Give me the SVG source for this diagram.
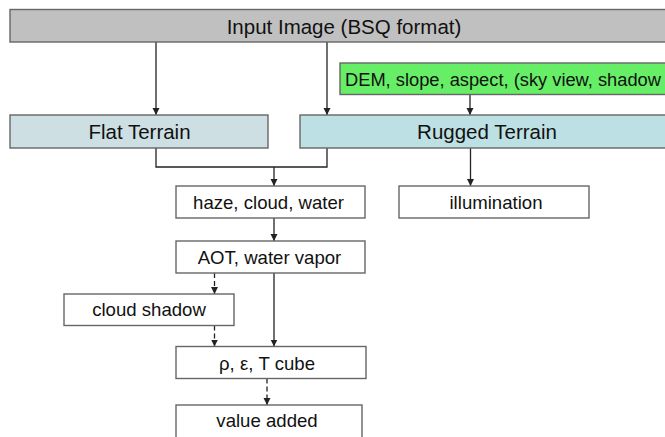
<svg xmlns="http://www.w3.org/2000/svg" width="665" height="437" viewBox="0 0 665 437">
<style>
.box{stroke:#666;stroke-width:1.4}
.w{fill:#fff}
.t{font-family:"Liberation Sans",Arial,sans-serif;fill:#111;text-anchor:middle}
.big{font-size:20.5px}
.sm{font-size:18.6px}
.c{fill:none;stroke:#222;stroke-width:1.3}
.d{stroke-dasharray:5 3}
</style>
<defs>
<marker id="ah" markerUnits="userSpaceOnUse" markerWidth="8" markerHeight="8" refX="7" refY="3.5" orient="auto">
<path d="M0,0 L7,3.5 L0,7 z" fill="#222"/>
</marker>
</defs>
<rect width="665" height="437" fill="#fff"/>
<g id="connectors">
<line class="c" x1="156" y1="42" x2="156" y2="115" marker-end="url(#ah)"/>
<line class="c" x1="327" y1="42" x2="327" y2="115" marker-end="url(#ah)"/>
<line class="c" x1="470" y1="94.5" x2="470" y2="115" marker-end="url(#ah)"/>
<polyline class="c" points="156,148 156,167 327,167 327,148"/>
<line class="c" x1="274" y1="167" x2="274" y2="186" marker-end="url(#ah)"/>
<line class="c" x1="470.5" y1="148" x2="470.5" y2="186" marker-end="url(#ah)"/>
<line class="c" x1="274" y1="218" x2="274" y2="241" marker-end="url(#ah)"/>
<line class="c d" x1="214.5" y1="273" x2="214.5" y2="294" marker-end="url(#ah)"/>
<line class="c" x1="274" y1="273" x2="274" y2="346.5" marker-end="url(#ah)"/>
<line class="c d" x1="214.5" y1="325.5" x2="214.5" y2="346.5" marker-end="url(#ah)"/>
<line class="c d" x1="267" y1="378.5" x2="267" y2="405" marker-end="url(#ah)"/>
</g>
<g id="input">
<rect class="box" x="10" y="9.5" width="670" height="32.5" fill="#c0c0c0"/>
<text class="t big" x="344" y="34">Input Image (BSQ format)</text>
</g>
<g id="dem">
<rect class="box" x="340" y="63" width="340" height="31.5" fill="#66ee66"/>
<text class="t" x="345" y="86" style="text-anchor:start;font-size:18.3px">DEM, slope, aspect, (sky view, shadow</text>
</g>
<g id="flat">
<rect class="box" x="10" y="115" width="258" height="33" fill="#cddfe3"/>
<text class="t big" x="139.5" y="138.5">Flat Terrain</text>
</g>
<g id="rugged">
<rect class="box" x="300" y="115" width="380" height="33" fill="#bde0e4"/>
<text class="t big" x="487" y="138.5">Rugged Terrain</text>
</g>
<g id="haze">
<rect class="box w" x="176" y="186" width="189" height="32"/>
<text class="t sm" x="268.5" y="208.5">haze, cloud, water</text>
</g>
<g id="illumination">
<rect class="box w" x="399" y="186" width="190" height="32"/>
<text class="t sm" x="496" y="208.5">illumination</text>
</g>
<g id="aot">
<rect class="box w" x="176" y="241" width="189" height="32"/>
<text class="t sm" x="269.5" y="264">AOT, water vapor</text>
</g>
<g id="cloudshadow">
<rect class="box w" x="64" y="294" width="170" height="31.5"/>
<text class="t sm" x="149" y="316">cloud shadow</text>
</g>
<g id="cube">
<rect class="box w" x="176" y="346.5" width="190" height="32"/>
<text class="t sm" x="267" y="370">ρ, ε, T cube</text>
</g>
<g id="valueadded">
<rect class="box w" x="176" y="405" width="186" height="40"/>
<text class="t sm" x="267" y="427">value added</text>
</g>
</svg>
